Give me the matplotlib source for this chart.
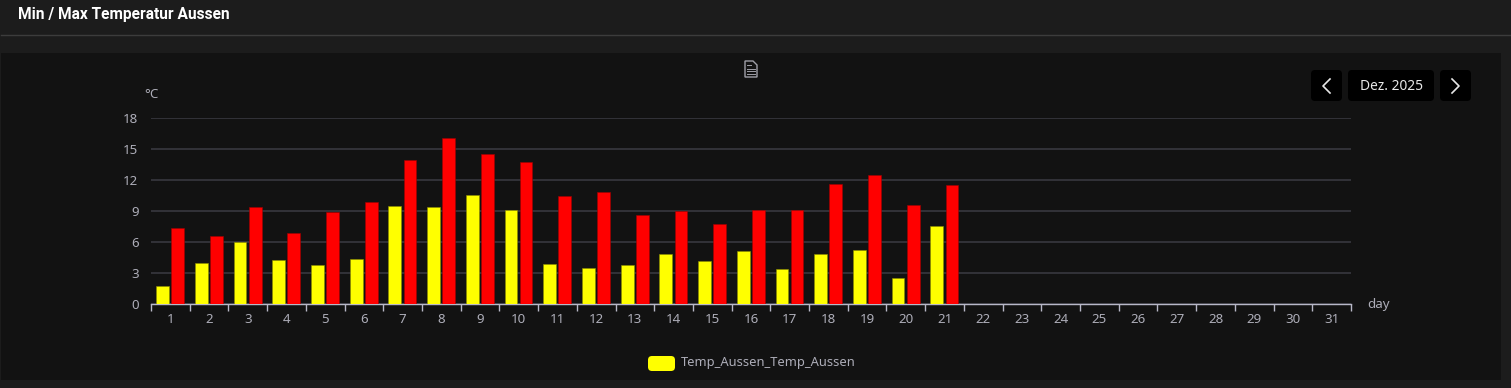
import matplotlib
matplotlib.use('Agg')
import matplotlib.pyplot as plt
from matplotlib.patches import FancyBboxPatch, Rectangle, Polygon

days = list(range(1, 32))
temp_min = [1.7, 3.9, 6.0, 4.2, 3.7, 4.3, 9.5, 9.4, 10.5, 9.1, 3.8, 3.5, 3.75, 4.8, 4.1, 5.1, 3.35, 4.85, 5.2, 2.5, 7.5]
temp_max = [7.3, 6.55, 9.4, 6.8, 8.9, 9.8, 13.9, 16.0, 14.5, 13.7, 10.4, 10.8, 8.6, 9.0, 7.7, 9.1, 9.1, 11.6, 12.5, 9.6, 11.5]
y_ticks = [0, 3, 6, 9, 12, 15, 18]

W, H = 1511, 388
plt.rcParams['font.family'] = ['Noto Sans', 'DejaVu Sans']
TXT = '#adadb8'

fig = plt.figure(figsize=(W / 100, H / 100), dpi=100, facecolor='#1c1c1c')

# page chrome, pixel coords
bg = fig.add_axes([0, 0, 1, 1])
bg.set_xlim(0, W)
bg.set_ylim(H, 0)
bg.axis('off')
bg.add_patch(Rectangle((1, 53), 1500, 327, fc='#121212', ec='none'))
bg.plot([1, W], [34.5, 34.5], color='#3c3c3c', lw=1)
bg.text(18.5, 14.5, 'Min / Max Temperatur Aussen', color='white', fontsize=11.2, family='Roboto', fontweight='bold', va='center')

def button(x, w):
    bg.add_patch(FancyBboxPatch((x, 70), w, 31, boxstyle='round,pad=0,rounding_size=4', fc='black', ec='none'))

button(1311, 31)
button(1348, 86)
button(1440, 31)
bg.text(1391, 86, 'Dez. 2025', color='#e8e8e8', fontsize=9.9, ha='center', va='center')
bg.plot([1330, 1323, 1330], [79, 86, 93], color='#e8e8e8', lw=1.2)
bg.plot([1452, 1459, 1452], [79, 86, 93], color='#e8e8e8', lw=1.2)

# document icon
bg.add_patch(Polygon([(745, 61), (753, 61), (757, 65), (757, 77), (745, 77)], closed=True, fc='none', ec='#a0a0a8', lw=1.0))
for yy, x0, x1 in [(65, 747, 751), (68.5, 747, 755), (71, 747, 755), (74, 747, 755)]:
    bg.plot([x0, x1], [yy, yy], color='#a0a0a8', lw=0.7)

# legend
bg.add_patch(FancyBboxPatch((648, 356), 27, 15, boxstyle='round,pad=0,rounding_size=4', fc='#ffff00', ec='none'))
bg.text(680.5, 362.5, 'Temp_Aussen_Temp_Aussen', color=TXT, fontsize=9.3, va='center')

# chart
ax = fig.add_axes([151 / W, 1 - 303.7 / H, 1200 / W, 186 / H])
ax.patch.set_alpha(0)
x_min = [d - 0.2 for d in days[:len(temp_min)]]
x_max = [d + 0.19 for d in days[:len(temp_max)]]
ax.bar(x_min, temp_min, width=0.33, color='#ffff00', edgecolor='#8c8c00', lw=0.4, zorder=3)
ax.bar(x_max, temp_max, width=0.33, color='#ff0000', edgecolor='#a00000', lw=0.4, zorder=3)
ax.set_xlim(0.5, 31.5)
ax.set_ylim(0, 18)
ax.set_yticks(y_ticks)
ax.grid(axis='y', color='#38383f', lw=1.2, zorder=0)
ax.set_axisbelow(True)
ax.set_xticks([d - 0.5 for d in days] + [31.5])
ax.set_xticklabels([])
ax.set_xticks(days, minor=True)
ax.set_xticklabels(days, minor=True)
ax.tick_params(axis='x', which='major', length=5, width=1, color='#b8b8c8', pad=2)
ax.tick_params(axis='x', which='minor', length=0, labelsize=9.6, labelcolor=TXT, pad=7)
ax.tick_params(axis='y', length=0, labelsize=9.6, labelcolor=TXT, pad=9)
for name in ['top', 'right', 'left']:
    ax.spines[name].set_visible(False)
ax.spines['bottom'].set_color('#b8b8c8')
ax.spines['bottom'].set_linewidth(1)

bg.text(147.5, 95, '°', color=TXT, fontsize=9.6, ha='center', va='center')
bg.text(153.5, 95, 'C', color=TXT, fontsize=9.6, ha='center', va='center')
bg.text(1378.5, 304.5, 'day', color=TXT, fontsize=9.6, ha='center', va='center')

fig.savefig('out.png', dpi=100, facecolor=fig.get_facecolor())
